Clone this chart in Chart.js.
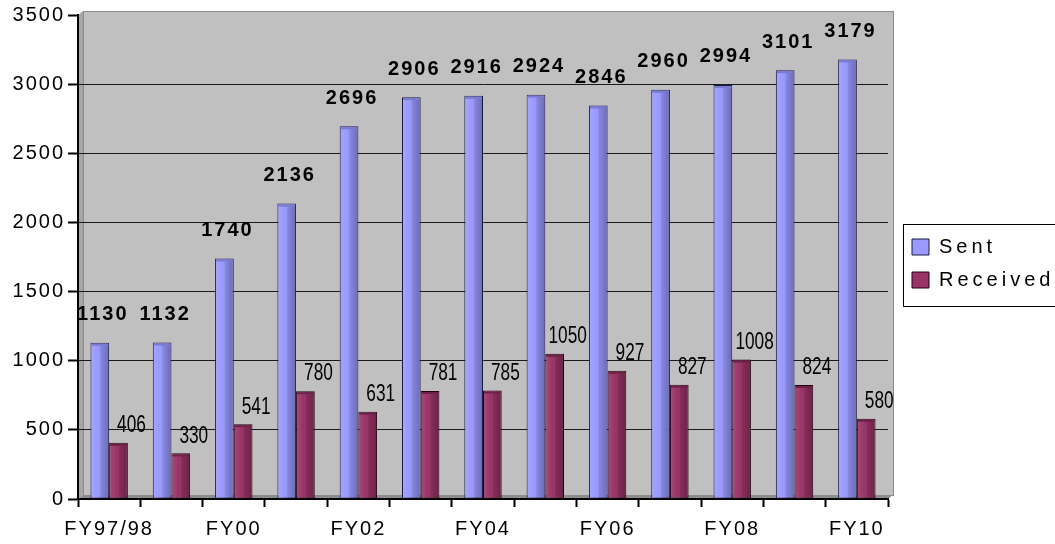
<!DOCTYPE html>
<html>
<head>
<meta charset="utf-8">
<title>Sent / Received</title>
<script src="https://cdn.jsdelivr.net/npm/chart.js@4.4.1/dist/chart.umd.min.js"></script>
<style>
html, body { margin: 0; padding: 0; background: #ffffff; }
#wrap { width: 1055px; height: 544px; position: relative; }
</style>
</head>
<body>
<div id="wrap"><canvas id="chart"></canvas></div>
<script>
// ==========================================================
// DATA
// ==========================================================

const fiscalYears = [
    "FY97/98", "FY99", "FY00", "FY01", "FY02", "FY03", "FY04",
    "FY05", "FY06", "FY07", "FY08", "FY09", "FY10"
];

const shownYearLabels = [
    "FY97/98", "FY00", "FY02", "FY04", "FY06", "FY08", "FY10"
];

const sentValues = [
    1130, 1132, 1740, 2136, 2696, 2906, 2916,
    2924, 2846, 2960, 2994, 3101, 3179
];

const receivedValues = [
    406, 330, 541, 780, 631, 781, 785,
    1050, 927, 827, 1008, 824, 580
];

const yMax = 3500;
const yStep = 500;

// ==========================================================
// LOOK
// ==========================================================

const FONT = '"Liberation Sans", Arial, sans-serif';
const SENT_COLOR = "#9999ff";
const RECEIVED_COLOR = "#993366";

const LEGEND_WIDTH = 167;
const LEGEND_DX = 11;
const LEGEND_DY = -16;

// ==========================================================
// PLUGIN: 3D WALLS, LETTER SPACING, LEGEND TWEAKS
// ==========================================================

const wallPlugin = {
    id: "walls",

    beforeLayout(chart) {
        chart.ctx.letterSpacing = "2px";

        const lg = chart.legend;
        if (lg && !lg._tweaked) {
            const fit = lg.fit;
            lg.fit = function () {
                fit.call(this);
                this.width = LEGEND_WIDTH;
            };
            const draw = lg.draw;
            lg.draw = function () {
                const c = this.ctx;
                c.save();
                c.translate(LEGEND_DX, LEGEND_DY);
                c.letterSpacing = "4px";
                draw.call(this);
                c.restore();
            };
            lg._tweaked = true;
        }
    },

    beforeDraw(chart) {
        const ctx = chart.ctx;
        const a = chart.chartArea;
        const dx = 5, dy = -4;
        ctx.letterSpacing = "2px";

        ctx.save();

        // back wall
        ctx.fillStyle = "#c0c0c0";
        ctx.fillRect(a.left + dx, a.top + dy, a.right - a.left, a.bottom - a.top);
        ctx.strokeStyle = "#8a8a8a";
        ctx.lineWidth = 1;
        ctx.strokeRect(a.left + dx + 0.5, a.top + dy + 0.5, a.right - a.left, a.bottom - a.top);

        // side wall
        ctx.fillStyle = "#a6a6a6";
        ctx.beginPath();
        ctx.moveTo(a.left, a.top);
        ctx.lineTo(a.left + dx, a.top + dy);
        ctx.lineTo(a.left + dx, a.bottom + dy);
        ctx.lineTo(a.left, a.bottom);
        ctx.closePath();
        ctx.fill();

        // floor
        ctx.fillStyle = "#8c8c8c";
        ctx.beginPath();
        ctx.moveTo(a.left, a.bottom);
        ctx.lineTo(a.left + dx, a.bottom + dy);
        ctx.lineTo(a.right + dx, a.bottom + dy);
        ctx.lineTo(a.right, a.bottom);
        ctx.closePath();
        ctx.fill();

        ctx.restore();
    },

    afterDraw(chart) {
        // legend frame
        const lg = chart.legend;
        const boxes = lg.legendHitBoxes;
        if (!boxes || !boxes.length) return;
        const ctx = chart.ctx;
        const top = boxes[0].top + LEGEND_DY - 13;
        const last = boxes[boxes.length - 1];
        const bottom = last.top + last.height + LEGEND_DY + 16;
        ctx.save();
        ctx.strokeStyle = "#000000";
        ctx.lineWidth = 1;
        ctx.strokeRect(lg.left + 15.5, Math.round(top) + 0.5, 200, Math.round(bottom - top));
        ctx.restore();
    }
};

// ==========================================================
// PLUGIN: BAR SHADING + VALUE LABELS
// ==========================================================

const labelPlugin = {
    id: "valueLabels",

    afterDatasetsDraw(chart) {
        const ctx = chart.ctx;

        chart.data.datasets.forEach((ds, di) => {
            const meta = chart.getDatasetMeta(di);
            meta.data.forEach((bar, i) => {
                const left = bar.x - bar.width / 2;
                const h = bar.base - bar.y;

                // cylinder-ish shading
                const g = ctx.createLinearGradient(left, 0, left + bar.width, 0);
                g.addColorStop(0, "rgba(255,255,255,0.12)");
                g.addColorStop(0.4, "rgba(255,255,255,0.0)");
                g.addColorStop(0.55, "rgba(0,0,0,0.12)");
                g.addColorStop(1, "rgba(0,0,0,0.3)");
                ctx.save();
                ctx.fillStyle = g;
                ctx.fillRect(left + 1, bar.y + 1, bar.width - 2, h - 1);

                // little top lip
                ctx.fillStyle = di === 0 ? "#7a7ad0" : "#6e2248";
                ctx.fillRect(left + 1, bar.y + 1, bar.width - 2, 2);
                ctx.restore();

                // value text
                const value = ds.data[i];
                ctx.save();
                ctx.fillStyle = "#000000";
                ctx.textBaseline = "middle";
                ctx.textAlign = "center";
                if (di === 0) {
                    ctx.font = "bold 20px " + FONT;
                    ctx.letterSpacing = "2px";
                    ctx.fillText(String(value), bar.x + 3, bar.y - 28);
                } else {
                    ctx.font = "23px " + FONT;
                    ctx.letterSpacing = "0px";
                    ctx.translate(bar.x + 13, bar.y - 17);
                    ctx.scale(0.75, 1);
                    ctx.fillText(String(value), 0, 0);
                }
                ctx.restore();
            });
        });
    }
};

// ==========================================================
// CHART
// ==========================================================

const ctx = document.getElementById("chart").getContext("2d");

new Chart(ctx, {
    type: "bar",

    data: {
        labels: fiscalYears,
        datasets: [
            {
                label: "Sent",
                data: sentValues,
                backgroundColor: SENT_COLOR,
                borderColor: "#1a1a40",
                borderWidth: 1,
                borderSkipped: false,
                categoryPercentage: 0.6,
                barPercentage: 1.0
            },
            {
                label: "Received",
                data: receivedValues,
                backgroundColor: RECEIVED_COLOR,
                borderColor: "#200010",
                borderWidth: 1,
                borderSkipped: false,
                categoryPercentage: 0.6,
                barPercentage: 1.0
            }
        ]
    },

    options: {
        responsive: true,
        maintainAspectRatio: false,
        animation: false,
        devicePixelRatio: 1,

        layout: {
            padding: { left: 0, top: 15, right: 0, bottom: 0 }
        },

        plugins: {
            legend: {
                position: "right",
                labels: {
                    color: "#000000",
                    boxWidth: 17,
                    boxHeight: 16,
                    padding: 13,
                    font: { family: FONT, size: 20 }
                }
            },
            tooltip: { enabled: false }
        },

        scales: {
            x: {
                offset: true,
                border: { display: true, color: "#000000", width: 2 },
                grid: {
                    offset: true,
                    drawOnChartArea: false,
                    drawTicks: true,
                    tickLength: 8,
                    tickColor: "#000000",
                    tickWidth: 2
                },
                ticks: {
                    autoSkip: false,
                    maxRotation: 0,
                    padding: 10,
                    color: "#000000",
                    font: { family: FONT, size: 20 },
                    callback: function (value) {
                        const name = this.getLabelForValue(value);
                        return shownYearLabels.includes(name) ? name : "";
                    }
                },
                afterFit(scale) {
                    scale.height = 45;
                }
            },

            y: {
                min: 0,
                max: yMax,
                border: { display: true, color: "#000000", width: 2 },
                grid: {
                    color: (c) =>
                        c.tick && (c.tick.value === 0 || c.tick.value === yMax)
                            ? "rgba(0,0,0,0)"
                            : "#1a1a1a",
                    lineWidth: 1,
                    drawTicks: true,
                    tickLength: 10,
                    tickColor: "#000000",
                    tickWidth: 2
                },
                ticks: {
                    stepSize: yStep,
                    padding: 3,
                    color: "#000000",
                    font: { family: FONT, size: 20 },
                    callback: (value) => String(value)
                },
                afterFit(scale) {
                    scale.width = 78;
                }
            }
        }
    },

    plugins: [wallPlugin, labelPlugin]
});
</script>
</body>
</html>
